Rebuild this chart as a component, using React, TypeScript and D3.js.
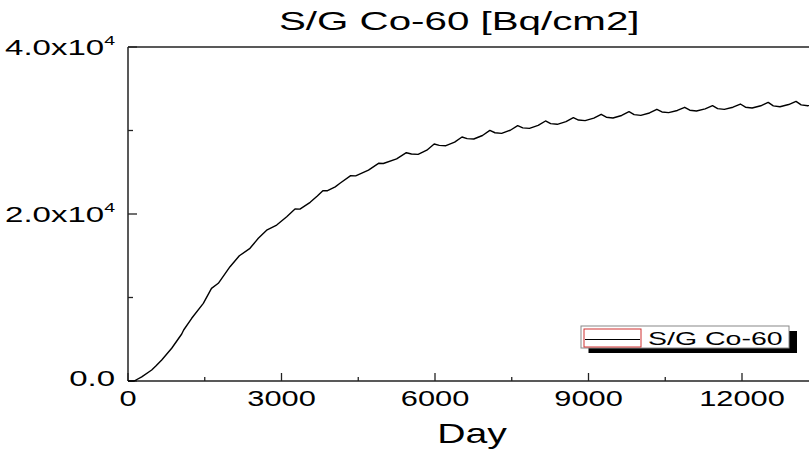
import React from 'react';
import * as d3 from 'd3';

const days: number[] = [
  0, 120, 268, 463, 544, 659, 854, 1050, 1088, 1245, 1472, 1632, 1765, 1994, 2176, 2384, 2547, 2720,
  2906, 3102, 3264, 3360, 3560, 3700, 3808, 3900, 4050, 4143, 4352, 4450, 4700, 4896, 4990, 5250,
  5440, 5540, 5670, 5840, 5984, 6084, 6214, 6384, 6528, 6628, 6758, 6928, 7072, 7172, 7302, 7472,
  7616, 7716, 7846, 8016, 8160, 8260, 8390, 8560, 8704, 8804, 8934, 9104, 9248, 9348, 9478, 9648,
  9792, 9892, 10022, 10192, 10336, 10436, 10566, 10736, 10880, 10980, 11110, 11280, 11424, 11524,
  11654, 11824, 11968, 12068, 12198, 12368, 12512, 12612, 12742, 12912, 13056, 13156, 13286, 13456,
];
const activity: number[] = [
  0, 0, 500, 1320, 1800, 2520, 3920, 5630, 6110, 7510, 9300, 11100, 11700, 13690, 15000, 15890, 17090, 18100,
  18680, 19680, 20600, 20580, 21400, 22150, 22790, 22790, 23250, 23680, 24590, 24570, 25250, 26070, 26050, 26600,
  27340, 27180, 27140, 27640, 28380, 28220, 28180, 28600, 29220, 29030, 28980, 29400, 30020, 29730, 29660, 30030,
  30580, 30320, 30260, 30610, 31140, 30820, 30740, 31060, 31540, 31250, 31180, 31480, 31940, 31590, 31500, 31800,
  32250, 31900, 31810, 32100, 32540, 32220, 32140, 32400, 32780, 32430, 32340, 32590, 32970, 32620,
  32530, 32790, 33170, 32790, 32690, 32960, 33370, 32950, 32850, 33110, 33490, 33070, 32970, 33230,
];

const xMajorTicks = [0, 3000, 6000, 9000, 12000, 15000];
const xMinorTicks = [1500, 4500, 7500, 10500, 13500];
const xTickLabels = ['0', '3000', '6000', '9000', '12000', ''];
const yMajorTicks = [0, 20000, 40000];
const yMinorTicks = [10000, 30000];
const yTickLabels = ['0.0', '2.0x10', '4.0x10'];
const yTickExponents = ['', '4', '4'];
const titleText = 'S/G Co-60 [Bq/cm2]';
const xAxisLabel = 'Day';
const seriesName = 'S/G Co-60';

const FONT = "'Liberation Sans', Arial, sans-serif";

export default function App() {
  const W = 809;
  const H = 451;
  const left = 128;
  const top = 47;
  const bottom = 381;
  const x = d3.scaleLinear().domain([0, 15000]).range([left, 895.5]);
  const y = d3.scaleLinear().domain([0, 40000]).range([bottom, top]);
  const pts: [number, number][] = days.map((d, i) => [d, activity[i]]);
  const line = d3
    .line<[number, number]>()
    .x((d) => x(d[0]))
    .y((d) => y(d[1]))
    .curve(d3.curveLinear);

  const axisColor = '#222';
  const sx = 1.4;

  return (
    <svg
      width={W}
      height={H}
      style={{ position: 'absolute', left: 0, top: 0, background: '#fff' }}
    >
      <rect x={0} y={0} width={W} height={H} fill="#fff" />
      {/* Title */}
      <text
        transform={`translate(279,30) scale(1.55,1)`}
        fontFamily={FONT}
        fontSize={26}
        fill="#000"
      >
        {titleText}
      </text>

      {/* frame */}
      <line x1={left} x2={W + 5} y1={top} y2={top} stroke={axisColor} strokeWidth={1.5} />
      <line x1={left} x2={W + 5} y1={bottom} y2={bottom} stroke={axisColor} strokeWidth={1.5} />
      <line x1={left} x2={left} y1={top} y2={bottom} stroke={axisColor} strokeWidth={1.5} />

      {/* x ticks */}
      {xMajorTicks.map((t, i) => (
        <g key={'xm' + t}>
          <line x1={x(t)} x2={x(t)} y1={bottom} y2={bottom - 8} stroke={axisColor} strokeWidth={1.3} />
          {xTickLabels[i] ? (
            <text
              transform={`translate(${x(t)},406) scale(${sx},1)`}
              textAnchor="middle"
              fontFamily={FONT}
              fontSize={22}
              fill="#000"
            >
              {xTickLabels[i]}
            </text>
          ) : null}
        </g>
      ))}
      {xMinorTicks.map((t) => (
        <line key={'xn' + t} x1={x(t)} x2={x(t)} y1={bottom} y2={bottom - 4} stroke={axisColor} strokeWidth={1.3} />
      ))}

      {/* y ticks */}
      {yMajorTicks.map((t, i) => (
        <g key={'ym' + t}>
          <line x1={left} x2={left + 9} y1={y(t)} y2={y(t)} stroke={axisColor} strokeWidth={1.3} />
          <text
            transform={`translate(115,${y(t) + (t === 0 ? 5 : 8)}) scale(1.5,1)`}
            textAnchor="end"
            fontFamily={FONT}
            fontSize={22}
            fill="#000"
          >
            {yTickLabels[i]}
            {yTickExponents[i] ? (
              <tspan fontSize={13} dy={-10}>
                {yTickExponents[i]}
              </tspan>
            ) : null}
          </text>
        </g>
      ))}
      {yMinorTicks.map((t) => (
        <line key={'yn' + t} x1={left} x2={left + 5} y1={y(t)} y2={y(t)} stroke={axisColor} strokeWidth={1.3} />
      ))}

      {/* x axis label */}
      <text
        transform={`translate(472,443) scale(1.4,1)`}
        textAnchor="middle"
        fontFamily={FONT}
        fontSize={28}
        fill="#000"
      >
        {xAxisLabel}
      </text>

      {/* data line */}
      <path d={line(pts) || ''} fill="none" stroke="#000" strokeWidth={1.4} strokeLinejoin="round" />

      {/* legend */}
      <rect x={588.5} y={331} width={208.5} height={22} fill="#000" />
      <rect x={581} y={326} width={208} height={22} fill="#fff" stroke="#888" strokeWidth={1} />
      <rect x={584} y={329} width={57} height={18} fill="none" stroke="#d03030" strokeWidth={1} />
      <line x1={585} x2={640} y1={339.5} y2={339.5} stroke="#000" strokeWidth={1.2} />
      <text
        transform={`translate(648,344.5) scale(1.5,1)`}
        fontFamily={FONT}
        fontSize={19}
        fill="#000"
      >
        {seriesName}
      </text>
    </svg>
  );
}
